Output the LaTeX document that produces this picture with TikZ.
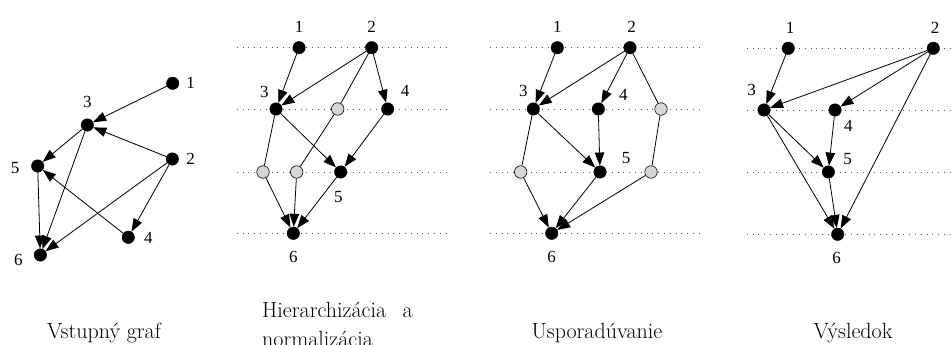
\documentclass[tikz,border=0pt]{standalone}
\usepackage{fontspec}
\newfontfamily\lblfont{Liberation Serif}
\usetikzlibrary{arrows.meta}
\tikzset{
 vtx/.style={circle,fill=black,draw=black,minimum size=12.5pt,inner sep=0pt},
 dummy/.style={circle,fill=black!16,draw=black,line width=0.6pt,minimum size=12.5pt,inner sep=0pt},
 lbl/.style={font=\lblfont\fontsize{17}{17}\selectfont,inner sep=0pt},
 arr/.style={-{Triangle[length=13pt,width=9.5pt]},line width=0.8pt},
 seg/.style={line width=0.8pt},
 levelline/.style={line width=0.8pt,dash pattern=on 0.8pt off 5pt,black!70},
 captext/.style={font=\fontsize{22}{28}\selectfont,inner sep=0pt,anchor=base}
}
\begin{document}
\begin{tikzpicture}[x=1pt,y=-1pt]
\useasboundingbox (0,0) rectangle (951,345);
% level lines
\foreach \i/\y in {1/47.7,2/109,3/172,4/233.3}{
  \coordinate (pl\i) at (236.7,\y); \coordinate (pr\i) at (450,\y);
  \draw[levelline] (pl\i) -- (pr\i);
  \coordinate (ql\i) at (490,\y); \coordinate (qr\i) at (703.3,\y);
  \draw[levelline] (ql\i) -- (qr\i);
}
\foreach \i/\y in {1/48.3,2/110,3/172,4/234.3}{
  \coordinate (rl\i) at (746.7,\y); \coordinate (rr\i) at (951,\y);
  \draw[levelline] (rl\i) -- (rr\i);
}
% ---------- panel 1 ----------
\node[vtx] (a1) at (172.7,83.3) {};
\node[vtx] (a3) at (87.3,125) {};
\node[vtx] (a2) at (172.3,159) {};
\node[vtx] (a5) at (37.7,166) {};
\node[vtx] (a4) at (128.3,237.3) {};
\node[vtx] (a6) at (40.3,255) {};
\node[lbl] (la1) at (190.7,83) {1};
\node[lbl] (la3) at (87.3,101.7) {3};
\node[lbl] (la2) at (190.7,159) {2};
\node[lbl] (la5) at (15,167.7) {5};
\node[lbl] (la4) at (148.3,238.3) {4};
\node[lbl] (la6) at (18.3,260) {6};
\draw[arr] (a1) -- (a3);
\draw[arr] (a2) -- (a3);
\draw[arr] (a3) -- (a5);
\draw[arr] (a3) -- (a6);
\draw[arr] (a5) -- (a6);
\draw[arr] (a2) -- (a6);
\draw[arr] (a2) -- (a4);
\draw[arr] (a4) -- (a5);
% ---------- panel 2 ----------
\node[vtx] (b1) at (299,47.7) {};
\node[vtx] (b2) at (371.7,47.7) {};
\node[vtx] (b3) at (276,109) {};
\node[dummy] (ba) at (337.7,109) {};
\node[vtx] (b4) at (387.7,109) {};
\node[dummy] (bb) at (263,172) {};
\node[dummy] (bc) at (296.7,172) {};
\node[vtx] (b5) at (340.7,172) {};
\node[vtx] (b6) at (293.3,233.3) {};
\node[lbl] (lb1) at (299,27.3) {1};
\node[lbl] (lb2) at (371.7,27.3) {2};
\node[lbl] (lb3) at (264.3,91.7) {3};
\node[lbl] (lb4) at (405,91) {4};
\node[lbl] (lb5) at (338.3,196.7) {5};
\node[lbl] (lb6) at (293.3,256.7) {6};
\draw[arr] (b1) -- (b3);
\draw[arr] (b2) -- (b3);
\draw[seg] (b2) -- (ba);
\draw[arr] (b2) -- (b4);
\draw[seg] (b3) -- (bb);
\draw[arr] (b3) -- (b5);
\draw[seg] (ba) -- (bc);
\draw[arr] (b4) -- (b5);
\draw[arr] (bb) -- (b6);
\draw[arr] (bc) -- (b6);
\draw[arr] (b5) -- (b6);
% ---------- panel 3 ----------
\node[vtx] (c1) at (557.3,47.7) {};
\node[vtx] (c2) at (630,47.7) {};
\node[vtx] (c3) at (533.3,109) {};
\node[vtx] (c4) at (598.3,109) {};
\node[dummy] (cd) at (661,109) {};
\node[dummy] (ce) at (520.7,172) {};
\node[vtx] (c5) at (600,172) {};
\node[dummy] (cf) at (651,172) {};
\node[vtx] (c6) at (551.7,233.3) {};
\node[lbl] (lc1) at (557.3,27.3) {1};
\node[lbl] (lc2) at (631.7,27.3) {2};
\node[lbl] (lc3) at (523.3,91.3) {3};
\node[lbl] (lc4) at (623.3,95) {4};
\node[lbl] (lc5) at (626,158) {5};
\node[lbl] (lc6) at (551.7,256.7) {6};
\draw[arr] (c1) -- (c3);
\draw[arr] (c2) -- (c3);
\draw[arr] (c2) -- (c4);
\draw[seg] (c2) -- (cd);
\draw[seg] (c3) -- (ce);
\draw[arr] (c3) -- (c5);
\draw[arr] (c4) -- (c5);
\draw[seg] (cd) -- (cf);
\draw[arr] (ce) -- (c6);
\draw[arr] (c5) -- (c6);
\draw[arr] (cf) -- (c6);
% ---------- panel 4 ----------
\node[vtx] (d1) at (788.3,48.3) {};
\node[vtx] (d2) at (933.3,48.3) {};
\node[vtx] (d3) at (764,110) {};
\node[vtx] (d4) at (835,110) {};
\node[vtx] (d5) at (828.3,172) {};
\node[vtx] (d6) at (837.7,234.3) {};
\node[lbl] (ld1) at (790,28.3) {1};
\node[lbl] (ld2) at (935,28.3) {2};
\node[lbl] (ld3) at (751.7,90) {3};
\node[lbl] (ld4) at (848.3,126) {4};
\node[lbl] (ld5) at (847.7,159.3) {5};
\node[lbl] (ld6) at (836.7,258.3) {6};
\draw[arr] (d1) -- (d3);
\draw[arr] (d2) -- (d3);
\draw[arr] (d2) -- (d4);
\draw[arr] (d2) -- (d6);
\draw[arr] (d3) -- (d5);
\draw[arr] (d3) -- (d6);
\draw[arr] (d4) -- (d5);
\draw[arr] (d5) -- (d6);
% ---------- captions ----------
\node[captext] (t1) at (104,338) {Vstupný graf};
\node[captext,anchor=base west] (t2a) at (262,317) {Hierarchizácia\hspace{0.75em}a};
\node[captext,anchor=base west] (t2b) at (262,346) {normalizácia};
\node[captext] (t3) at (597,338) {Usporadúvanie};
\node[captext] (t4) at (853,338) {Výsledok};
\end{tikzpicture}
\end{document}
